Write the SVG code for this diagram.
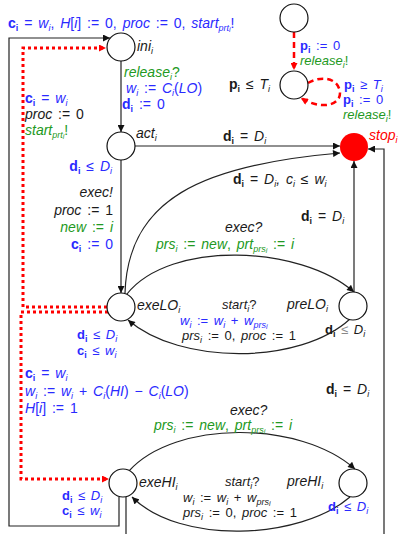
<svg xmlns="http://www.w3.org/2000/svg" width="401" height="534" viewBox="0 0 401 534">
<style>
.t{font-family:"Liberation Sans","DejaVu Sans",sans-serif;font-size:14px;fill:#1a1a1a;word-spacing:2px}
.sm{font-size:13px}
.i{font-style:italic}
.b{font-weight:bold;font-style:normal}
.s{font-size:9px;baseline-shift:-2.5px}
.ss{font-size:7px;baseline-shift:-1.5px}
.bl{fill:#2a2aff}
.gr{fill:#229922}
.rd{fill:#ff0000}
.n{fill:#fff;stroke:#111;stroke-width:1.2}
.e{fill:none;stroke:#222;stroke-width:1.2}
.r{fill:none;stroke:#ff0000;stroke-width:3;stroke-dasharray:3 3}
.rdash{fill:none;stroke:#ff0000;stroke-width:2.5;stroke-dasharray:6 4}
</style>
<defs>
<marker id="a" viewBox="0 0 10 10" refX="10" refY="5" markerWidth="8" markerHeight="7" markerUnits="userSpaceOnUse" orient="auto"><path d="M0,0 L10,5 L0,10 z" fill="#111"/></marker>
<marker id="ar" viewBox="0 0 10 10" refX="10" refY="5" markerWidth="8" markerHeight="7" markerUnits="userSpaceOnUse" orient="auto"><path d="M0,0 L10,5 L0,10 z" fill="#ff0000"/></marker>
</defs>

<g id="connectors">
<path class="e" d="M119,497 L119,526 L9,526 L9,38 L110,38" marker-end="url(#a)"/>
<path class="r" d="M107,307 L23,307 L23,48 L106,48" marker-end="url(#ar)"/>
<path class="r" d="M108,312 L21,312 L21,479 L109,479" marker-end="url(#ar)"/>
<path class="rdash" d="M294,32 L294,70" marker-end="url(#ar)"/>
<path class="rdash" d="M308,83 C322,75 338,78 340,92 C341,106 320,110 301,98" marker-end="url(#ar)"/>
<path class="e" d="M121,61 L121,132" marker-end="url(#a)"/>
<path class="e" d="M135,146 L340,146" marker-end="url(#a)"/>
<path class="e" d="M121,160 L121,293" marker-end="url(#a)"/>
<path class="e" d="M125,293 C128,200 200,165 340,153" marker-end="url(#a)"/>
<path class="e" d="M127,294 C170,240 300,245 354,292" marker-end="url(#a)"/>
<path class="e" d="M350,319 C300,365 180,365 128,320" marker-end="url(#a)"/>
<path class="e" d="M354,292 L354,161" marker-end="url(#a)"/>
<path class="e" d="M129,471 C175,420 300,420 355,469" marker-end="url(#a)"/>
<path class="e" d="M350,497 C300,540 180,545 132,497" marker-end="url(#a)"/>
<path class="e" d="M126,497 L126,540 L384,540 L384,149 L368,149" marker-end="url(#a)"/>
</g>

<g id="ini">
<circle class="n" cx="121" cy="47" r="14"/>
<text class="t i" x="137" y="51">ini<tspan class="s">i</tspan></text>
</g>
<g id="start_node">
<circle class="n" cx="294" cy="18" r="14"/>
</g>
<g id="period">
<circle class="n" cx="294" cy="85" r="14"/>
<text class="t" x="229" y="89"><tspan class="b">p<tspan class="s">i</tspan></tspan> ≤ <tspan class="i">T<tspan class="s">i</tspan></tspan></text>
</g>
<g id="act">
<circle class="n" cx="121" cy="146" r="14"/>
<text class="t i" x="136" y="138">act<tspan class="s">i</tspan></text>
</g>
<g id="stop">
<circle cx="354" cy="147" r="14" fill="#ff0000"/>
<text class="t i rd" x="369" y="140">stop<tspan class="s">i</tspan></text>
</g>
<g id="exeLO">
<circle class="n" cx="121" cy="307" r="14"/>
<text class="t i" x="137" y="310">exeLO<tspan class="s">i</tspan></text>
<text class="t sm bl" x="77" y="339"><tspan class="b">d<tspan class="s">i</tspan></tspan> ≤ <tspan class="i">D<tspan class="s">i</tspan></tspan></text>
<text class="t sm bl" x="77" y="355"><tspan class="b">c<tspan class="s">i</tspan></tspan> ≤ <tspan class="i">w<tspan class="s">i</tspan></tspan></text>
</g>
<g id="preLO">
<circle class="n" cx="353" cy="306" r="14"/>
<text class="t i" x="287" y="309">preLO<tspan class="s">i</tspan></text>
<text class="t sm" x="325" y="334"><tspan class="b">d<tspan class="s">i</tspan></tspan> <tspan fill="#888">≤</tspan> <tspan class="i">D<tspan class="s">i</tspan></tspan></text>
</g>
<g id="exeHI">
<circle class="n" cx="123" cy="483" r="14"/>
<text class="t i" x="139" y="487">exeHI<tspan class="s">i</tspan></text>
<text class="t sm bl" x="62" y="500"><tspan class="b">d<tspan class="s">i</tspan></tspan> ≤ <tspan class="i">D<tspan class="s">i</tspan></tspan></text>
<text class="t sm bl" x="62" y="515"><tspan class="b">c<tspan class="s">i</tspan></tspan> ≤ <tspan class="i">w<tspan class="s">i</tspan></tspan></text>
</g>
<g id="preHI">
<circle class="n" cx="353" cy="483" r="14"/>
<text class="t i" x="287" y="486">preHI<tspan class="s">i</tspan></text>
<text class="t sm bl" x="328" y="511"><tspan class="b">d<tspan class="s">i</tspan></tspan> ≤ <tspan class="i">D<tspan class="s">i</tspan></tspan></text>
</g>

<g id="labels">
<text class="t bl" x="8" y="28"><tspan class="b">c<tspan class="s">i</tspan></tspan> = <tspan class="i">w<tspan class="s">i</tspan></tspan>, <tspan class="i">H</tspan>[<tspan class="i">i</tspan>] := 0, <tspan class="i">proc</tspan> := 0, <tspan class="i">start<tspan class="s">prt<tspan class="ss">i</tspan></tspan></tspan>!</text>

<text class="t sm gr" x="300" y="50"><tspan class="b bl">p<tspan class="s">i</tspan></tspan><tspan class="bl"> := 0</tspan></text>
<text class="t sm gr" x="300" y="65"><tspan class="i">release<tspan class="s">i</tspan></tspan>!</text>
<text class="t sm bl" x="344" y="89"><tspan class="b">p<tspan class="s">i</tspan></tspan> ≥ <tspan class="i">T<tspan class="s">i</tspan></tspan></text>
<text class="t sm bl" x="343" y="104"><tspan class="b">p<tspan class="s">i</tspan></tspan> := 0</text>
<text class="t sm gr" x="343" y="119"><tspan class="i">release<tspan class="s">i</tspan></tspan>!</text>

<text class="t gr" x="124" y="77"><tspan class="i">release<tspan class="s">i</tspan></tspan>?</text>
<text class="t bl" x="126" y="93"><tspan class="i">w<tspan class="s">i</tspan></tspan> := <tspan class="i">C<tspan class="s">i</tspan></tspan>(<tspan class="i">LO</tspan>)</text>
<text class="t bl" x="122" y="109"><tspan class="b">d<tspan class="s">i</tspan></tspan> := 0</text>

<text class="t bl" x="25" y="103"><tspan class="b">c<tspan class="s">i</tspan></tspan> = <tspan class="i">w<tspan class="s">i</tspan></tspan></text>
<text class="t" x="25" y="119"><tspan class="i">proc</tspan> := 0</text>
<text class="t gr" x="25" y="135"><tspan class="i">start<tspan class="s">prt<tspan class="ss">i</tspan></tspan></tspan>!</text>

<text class="t bl" x="112" y="171" text-anchor="end"><tspan class="b">d<tspan class="s">i</tspan></tspan> ≤ <tspan class="i">D<tspan class="s">i</tspan></tspan></text>
<text class="t i" x="113" y="197" text-anchor="end">exec!</text>
<text class="t" x="113" y="215" text-anchor="end"><tspan class="i">proc</tspan> := 1</text>
<text class="t gr" x="113" y="232" text-anchor="end"><tspan class="i">new</tspan> := <tspan class="i">i</tspan></text>
<text class="t bl" x="113" y="249" text-anchor="end"><tspan class="b">c<tspan class="s">i</tspan></tspan> := 0</text>

<text class="t" x="223" y="141"><tspan class="b">d<tspan class="s">i</tspan></tspan> = <tspan class="i">D<tspan class="s">i</tspan></tspan></text>
<text class="t" x="233" y="184"><tspan class="b">d<tspan class="s">i</tspan></tspan> = <tspan class="i">D<tspan class="s">i</tspan>, c<tspan class="s">i</tspan></tspan> ≤ <tspan class="i">w<tspan class="s">i</tspan></tspan></text>
<text class="t" x="301" y="221"><tspan class="b">d<tspan class="s">i</tspan></tspan> = <tspan class="i">D<tspan class="s">i</tspan></tspan></text>

<text class="t i" x="225" y="232">exec?</text>
<text class="t gr" x="156" y="249"><tspan class="i">prs<tspan class="s">i</tspan></tspan> := <tspan class="i">new</tspan>, <tspan class="i">prt<tspan class="s">prs<tspan class="ss">i</tspan></tspan></tspan> := <tspan class="i">i</tspan></text>

<text class="t sm" x="222" y="309"><tspan class="i">start<tspan class="s">i</tspan></tspan>?</text>
<text class="t sm bl" x="180" y="325"><tspan class="i">w<tspan class="s">i</tspan></tspan> := <tspan class="i">w<tspan class="s">i</tspan></tspan> + <tspan class="i">w<tspan class="s">prs<tspan class="ss">i</tspan></tspan></tspan></text>
<text class="t sm" x="182" y="340"><tspan class="i">prs<tspan class="s">i</tspan></tspan> := 0, <tspan class="i">proc</tspan> := 1</text>

<text class="t bl" x="25" y="378"><tspan class="b">c<tspan class="s">i</tspan></tspan> = <tspan class="i">w<tspan class="s">i</tspan></tspan></text>
<text class="t bl" x="25" y="396"><tspan class="i">w<tspan class="s">i</tspan></tspan> := <tspan class="i">w<tspan class="s">i</tspan></tspan> + <tspan class="i">C<tspan class="s">i</tspan></tspan>(<tspan class="i">HI</tspan>) − <tspan class="i">C<tspan class="s">i</tspan></tspan>(<tspan class="i">LO</tspan>)</text>
<text class="t bl" x="25" y="413"><tspan class="i">H</tspan>[<tspan class="i">i</tspan>] := 1</text>

<text class="t" x="326" y="394"><tspan class="b">d<tspan class="s">i</tspan></tspan> = <tspan class="i">D<tspan class="s">i</tspan></tspan></text>

<text class="t i" x="230" y="415">exec?</text>
<text class="t gr" x="154" y="430"><tspan class="i">prs<tspan class="s">i</tspan></tspan> := <tspan class="i">new</tspan>, <tspan class="i">prt<tspan class="s">prs<tspan class="ss">i</tspan></tspan></tspan> := <tspan class="i">i</tspan></text>

<text class="t sm" x="225" y="486"><tspan class="i">start<tspan class="s">i</tspan></tspan>?</text>
<text class="t sm" x="183" y="502"><tspan class="i">w<tspan class="s">i</tspan></tspan> := <tspan class="i">w<tspan class="s">i</tspan></tspan> + <tspan class="i">w<tspan class="s">prs<tspan class="ss">i</tspan></tspan></tspan></text>
<text class="t sm" x="183" y="517"><tspan class="i">prs<tspan class="s">i</tspan></tspan> := 0, <tspan class="i">proc</tspan> := 1</text>
</g>
</svg>
